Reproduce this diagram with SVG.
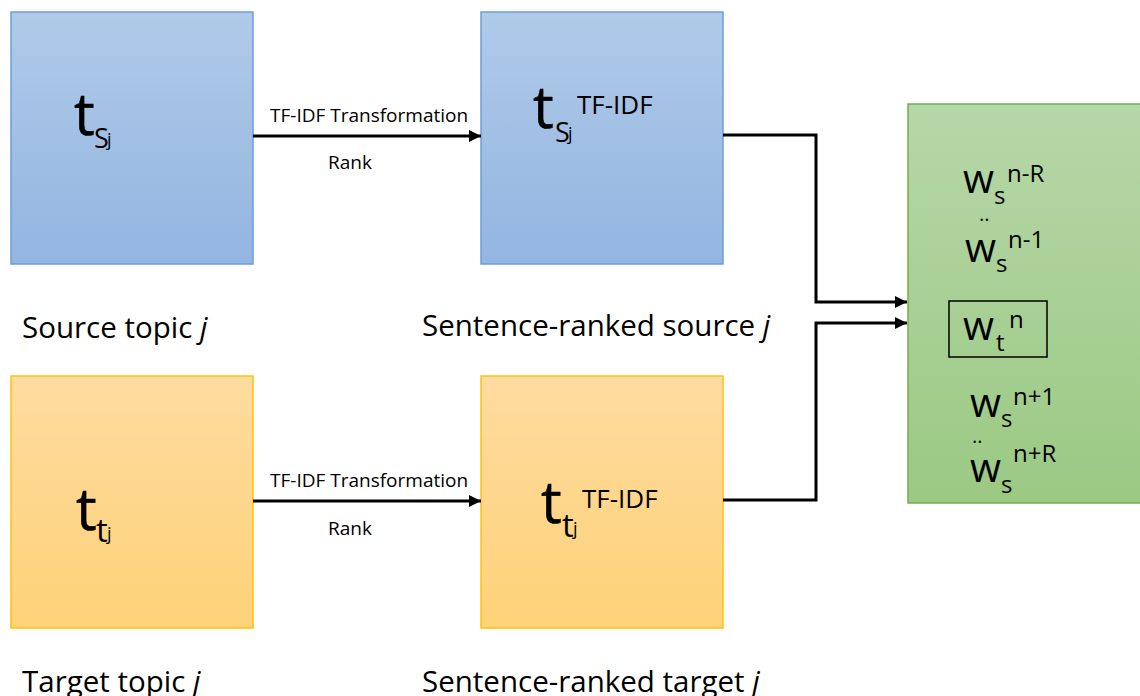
<svg xmlns="http://www.w3.org/2000/svg" width="1140" height="696" viewBox="0 0 1140 696">
  <defs>
    <linearGradient id="gBlue" x1="0" y1="0" x2="0" y2="1">
      <stop offset="0" stop-color="#b0cae9"/>
      <stop offset="1" stop-color="#93b5e1"/>
    </linearGradient>
    <linearGradient id="gOrange" x1="0" y1="0" x2="0" y2="1">
      <stop offset="0" stop-color="#fedba0"/>
      <stop offset="1" stop-color="#fed278"/>
    </linearGradient>
    <linearGradient id="gGreen" x1="0" y1="0" x2="0" y2="1">
      <stop offset="0" stop-color="#b6d7a8"/>
      <stop offset="1" stop-color="#9bc983"/>
    </linearGradient>
    <marker id="arrow" viewBox="0 0 10 10" refX="10" refY="5" markerWidth="4" markerHeight="4" orient="auto" markerUnits="strokeWidth">
      <path d="M0,0 L10,5 L0,10 z" fill="#000"/>
    </marker>
  </defs>
  <style>
    text { font-family: "Open Sans", Lato, "Liberation Sans", sans-serif; fill: #000; }
    .blue { fill: url(#gBlue); stroke: #6a9fd6; stroke-width: 1.5; }
    .orange { fill: url(#gOrange); stroke: #ffc20e; stroke-width: 1.5; }
    .green { fill: url(#gGreen); stroke: #74ae4c; stroke-width: 1.5; }
    .big { font-size: 58px; stroke: #000; stroke-width: 0.6; }
    .sub { font-size: 27px; }
    .subt { font-size: 33px; }
    .subsub { font-size: 18px; }
    .sup { font-size: 26px; }
    .cap { font-size: 29.5px; }
    .edge { font-size: 19px; }
    .w { font-size: 40px; }
    .ws { font-size: 24px; }
    .wp { font-size: 24px; }
    .dots { font-size: 20px; }
    .conn { fill: none; stroke: #000; stroke-width: 3; marker-end: url(#arrow); }
  </style>

  <!-- source topic -->
  <g id="source-topic">
    <rect class="blue" x="11" y="12" width="242" height="252"/>
    <text class="big" x="74" y="135">t</text>
    <text class="sub" x="94" y="148">S</text>
    <text class="subsub" x="107" y="146">j</text>
    <text class="cap" x="22" y="338">Source topic <tspan font-style="italic">j</tspan></text>
  </g>

  <!-- sentence-ranked source -->
  <g id="ranked-source">
    <rect class="blue" x="481" y="12" width="242" height="252"/>
    <text class="big" x="533" y="128">t</text>
    <text class="sub" x="555" y="142">S</text>
    <text class="subsub" x="568" y="140">j</text>
    <text class="sup" x="577" y="114">TF-IDF</text>
    <text class="cap" x="422" y="336">Sentence-ranked source <tspan font-style="italic">j</tspan></text>
  </g>

  <!-- target topic -->
  <g id="target-topic">
    <rect class="orange" x="11" y="376" width="242" height="252"/>
    <text class="big" x="76" y="530">t</text>
    <text class="subt" x="96" y="542">t</text>
    <text class="subsub" x="107" y="540">j</text>
    <text class="cap" x="22" y="692">Target topic <tspan font-style="italic">j</tspan></text>
  </g>

  <!-- sentence-ranked target -->
  <g id="ranked-target">
    <rect class="orange" x="481" y="376" width="242" height="252"/>
    <text class="big" x="541" y="523">t</text>
    <text class="subt" x="562" y="537">t</text>
    <text class="subsub" x="573" y="535">j</text>
    <text class="sup" x="582" y="508">TF-IDF</text>
    <text class="cap" x="422" y="692">Sentence-ranked target <tspan font-style="italic">j</tspan></text>
  </g>

  <!-- context window -->
  <g id="context-window">
    <rect class="green" x="908" y="104" width="240" height="399"/>
    <text class="w" x="963" y="193">w</text>
    <text class="ws" x="994" y="204">s</text>
    <text class="wp" x="1007" y="182">n-R</text>
    <text class="dots" x="979" y="221">..</text>
    <text class="w" x="965" y="262">w</text>
    <text class="ws" x="996" y="272">s</text>
    <text class="wp" x="1008" y="248">n-1</text>
    <rect x="949" y="301" width="98" height="56" fill="none" stroke="#000" stroke-width="1.5"/>
    <text class="w" x="963" y="340">w</text>
    <text class="ws" x="996" y="351">t</text>
    <text class="wp" x="1009" y="328">n</text>
    <text class="w" x="970" y="417">w</text>
    <text class="ws" x="1001" y="427">s</text>
    <text class="wp" x="1013" y="405">n+1</text>
    <text class="dots" x="972" y="443">..</text>
    <text class="w" x="970" y="482">w</text>
    <text class="ws" x="1001" y="493">s</text>
    <text class="wp" x="1013" y="462">n+R</text>
  </g>

  <!-- connectors -->
  <g id="connectors">
    <path class="conn" d="M253,136 H481"/>
    <text class="edge" x="270" y="122">TF-IDF Transformation</text>
    <text class="edge" x="328" y="169">Rank</text>
    <path class="conn" d="M253,501 H481"/>
    <text class="edge" x="270" y="487">TF-IDF Transformation</text>
    <text class="edge" x="328" y="535">Rank</text>
    <path class="conn" d="M723,135 H816 V302 H907"/>
    <path class="conn" d="M723,500 H816 V323 H907"/>
  </g>
</svg>
